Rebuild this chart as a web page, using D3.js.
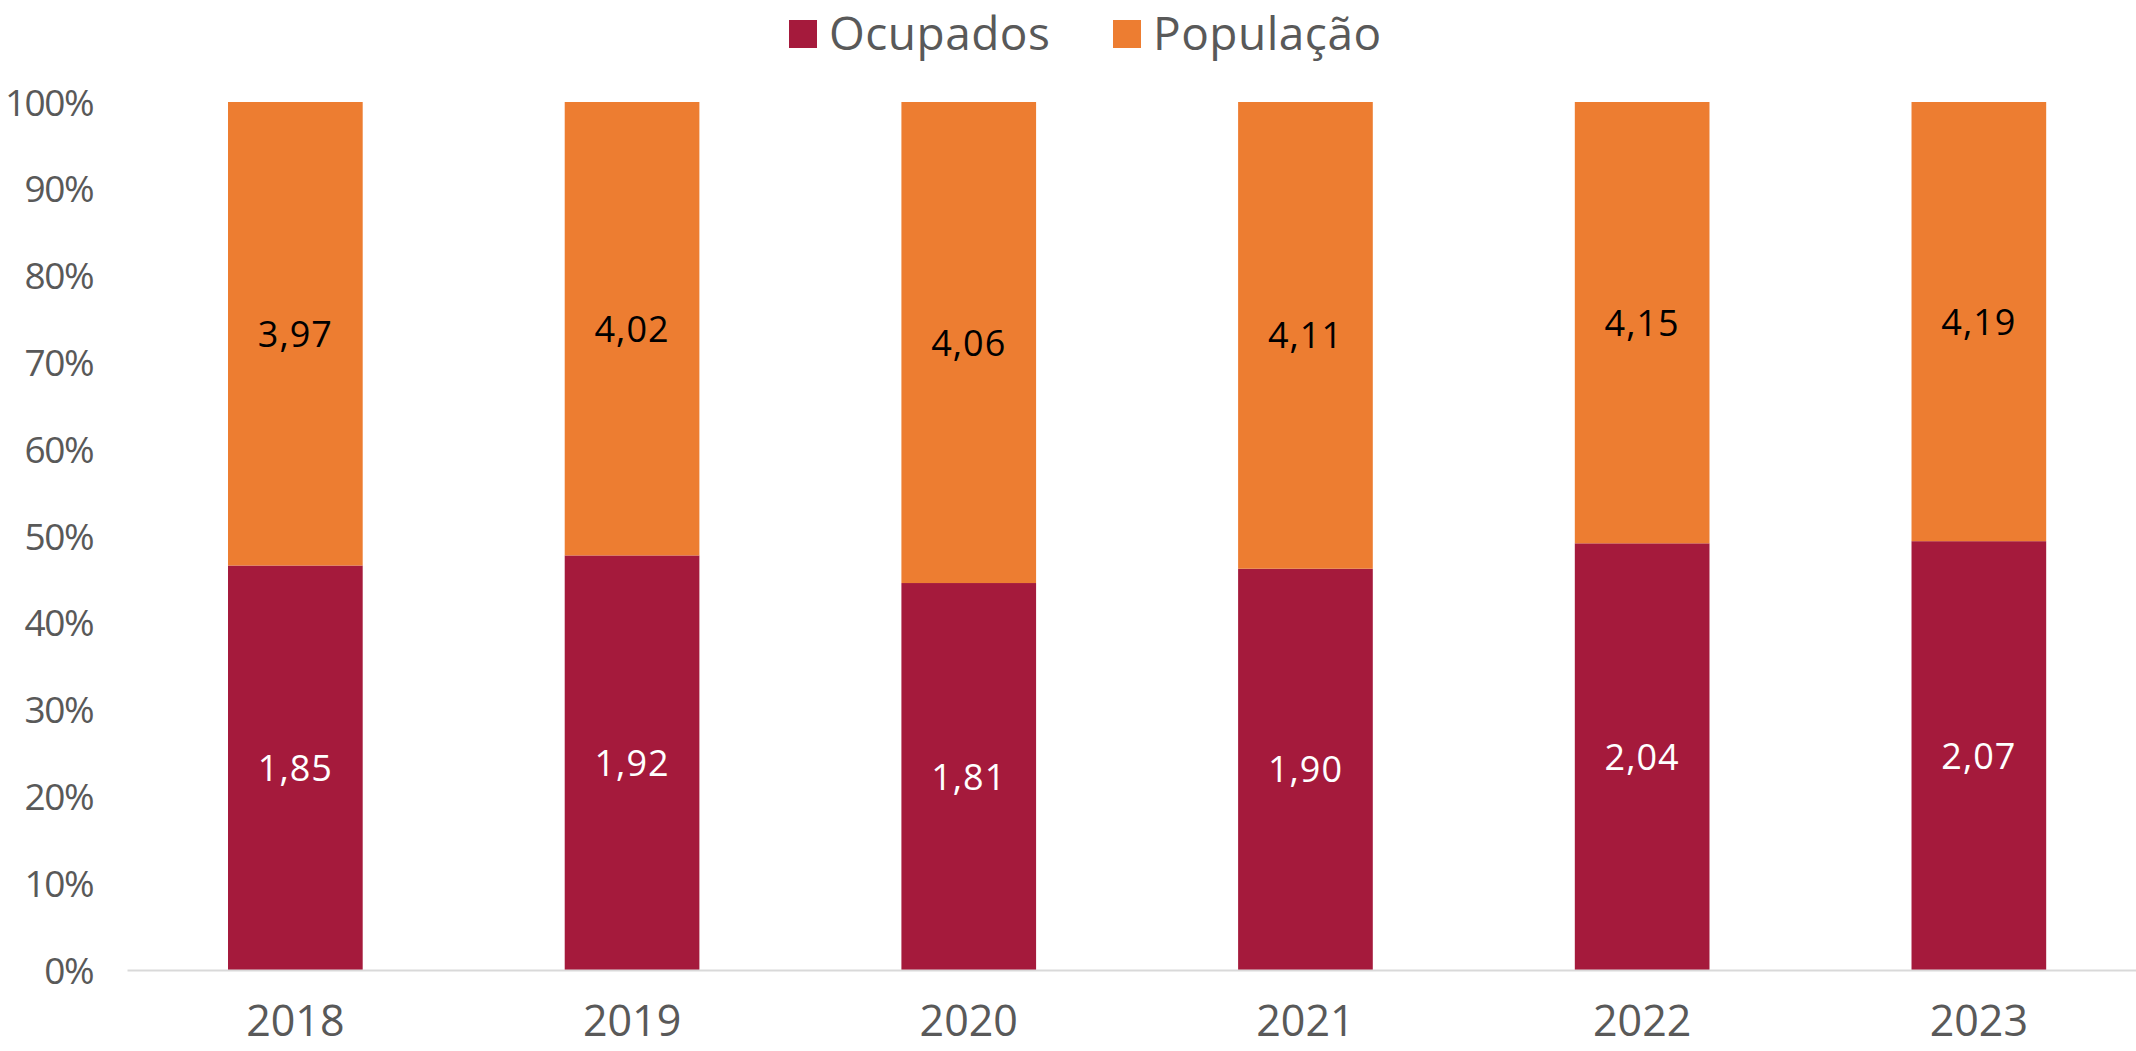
<!DOCTYPE html>
<html>
<head>
<meta charset="utf-8">
<script src="https://cdn.jsdelivr.net/npm/d3@7"></script>
<style>
    body { margin: 0; background: #fff; }
    svg { display: block; font-family: "Open Sans", "Noto Sans", sans-serif; }
</style>
</head>
<body>
<div id="chart"></div>
<script>
// chart data
const years = ['2018', '2019', '2020', '2021', '2022', '2023'];
const ocupados = [1.85, 1.92, 1.81, 1.90, 2.04, 2.07];
const populacao = [3.97, 4.02, 4.06, 4.11, 4.15, 4.19];
const yTicks = [0, 0.1, 0.2, 0.3, 0.4, 0.5, 0.6, 0.7, 0.8, 0.9, 1];
const seriesNames = ['Ocupados', 'População'];
const colors = ['#A51A3C', '#ED7D31'];

const chartWidth = 2136, chartHeight = 1051;
const plotLeft = 127, plotTop = 102, plotBottom = 970;

const svg = d3.select('#chart')
    .append('svg')
    .attr('width', chartWidth)
    .attr('height', chartHeight)
;

// ocupados drawn as share of population, remainder in orange
let rows = years.map((yr, i) => ({
    year: yr,
    occ: ocupados[i],
    pop: populacao[i],
    share: ocupados[i] / populacao[i]
}));

let x = d3.scaleBand()
    .domain(years)
    .range([plotLeft, plotLeft + 6 * 336.7])
    .paddingInner(0.6)
    .paddingOuter(0.3)
;
let y = d3.scaleLinear()
    .domain([0, 1])
    .range([plotBottom, plotTop])
;

// y tick labels (no axis line)
svg.append('g')
    .selectAll('text')
    .data(yTicks)
    .enter()
    .append('text')
    .attr('x', 93)
    .attr('y', d => y(d) + 13.5)
    .attr('text-anchor', 'end')
    .attr('font-size', 37)
    .attr('letter-spacing', -1.5)
    .attr('fill', '#595959')
    .text(d => d3.format('.0%')(d))
;

// bars: red part
svg.append('g')
    .selectAll('rect')
    .data(rows)
    .enter()
    .append('rect')
    .attr('x', d => x(d.year))
    .attr('width', x.bandwidth())
    .attr('y', d => y(d.share))
    .attr('height', d => y(0) - y(d.share))
    .attr('fill', colors[0])
;
// bars: orange part
svg.append('g')
    .selectAll('rect')
    .data(rows)
    .enter()
    .append('rect')
    .attr('x', d => x(d.year))
    .attr('width', x.bandwidth())
    .attr('y', y(1))
    .attr('height', d => y(d.share) - y(1))
    .attr('fill', colors[1])
;

// x axis
let xAxis = d3.axisBottom(x).tickSize(0).tickPadding(0);
let gx = svg.append('g')
    .attr('transform', `translate(0, ${plotBottom})`)
    .call(xAxis)
;
gx.select('.domain')
    .attr('stroke', '#d9d9d9')
    .attr('stroke-width', 2)
;
gx.selectAll('text')
    .attr('y', 66)
    .attr('dy', null)
    .attr('font-size', 43)
    .attr('font-family', '"Open Sans", "Noto Sans", sans-serif')
    .attr('fill', '#595959')
;

// value labels
let fmt = v => v.toFixed(2).replace('.', ',');
svg.append('g')
    .selectAll('text')
    .data(rows)
    .enter()
    .append('text')
    .attr('x', d => x(d.year) + x.bandwidth() / 2)
    .attr('y', d => (y(0) + y(d.share)) / 2 + 13)
    .attr('text-anchor', 'middle')
    .attr('font-size', 36)
    .attr('letter-spacing', 1)
    .attr('fill', '#fff')
    .text(d => fmt(d.occ))
;
svg.append('g')
    .selectAll('text')
    .data(rows)
    .enter()
    .append('text')
    .attr('x', d => x(d.year) + x.bandwidth() / 2)
    .attr('y', d => (y(1) + y(d.share)) / 2 + 13)
    .attr('text-anchor', 'middle')
    .attr('font-size', 36)
    .attr('letter-spacing', 1)
    .attr('fill', '#000')
    .text(d => fmt(d.pop))
;

// legend
let legendX = [789, 1113];
let legend = svg.append('g')
    .selectAll('g')
    .data(seriesNames)
    .enter()
    .append('g')
    .attr('transform', (d, i) => `translate(${legendX[i]}, 0)`)
;
legend.append('rect')
    .attr('x', 0)
    .attr('y', 20)
    .attr('width', 28)
    .attr('height', 28)
    .attr('fill', (d, i) => colors[i])
;
legend.append('text')
    .attr('x', 40)
    .attr('y', 50)
    .attr('font-size', 46)
    .attr('letter-spacing', 0.5)
    .attr('fill', '#595959')
    .text(d => d)
;
</script>
</body>
</html>
